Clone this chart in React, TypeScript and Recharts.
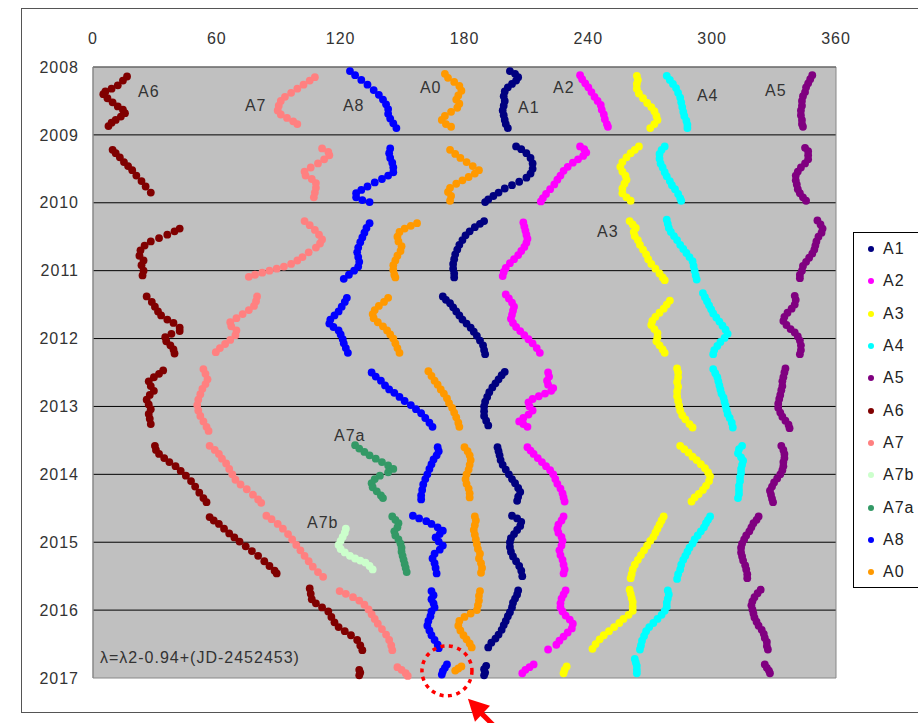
import React from "react";
import { ScatterChart, Scatter, XAxis, YAxis, CartesianGrid, Legend, ReferenceDot, ReferenceArea } from "recharts";

type Pt = [number, number];

const FONT = '"Liberation Sans", Arial, sans-serif';

const lonTicks = [0, 60, 120, 180, 240, 300, 360];
const yearTicks = [2008, 2009, 2010, 2011, 2012, 2013, 2014, 2015, 2016, 2017];
const gridYears = [2009, 2010, 2011, 2012, 2013, 2014, 2015, 2016];

// [longitude, year], one apparition after another
const a1: Pt[] = [
  [202, 2008.06], [204.5, 2008.1], [206, 2008.15], [205, 2008.2], [203, 2008.25], [201, 2008.3], [199.5, 2008.36], [199, 2008.43], [199.5, 2008.5], [199, 2008.57], [198.5, 2008.64], [199, 2008.71], [199.5, 2008.78], [200, 2008.84], [201, 2008.9],
  [205, 2009.17], [207.5, 2009.21], [210, 2009.27], [212, 2009.34], [213, 2009.42], [213, 2009.5], [212, 2009.57], [210, 2009.63], [206.5, 2009.69], [203, 2009.74], [199.5, 2009.79], [196.5, 2009.85], [194, 2009.9], [191.5, 2009.95], [190, 2009.99],
  [189.5, 2010.27], [187.5, 2010.31], [185, 2010.36], [182.5, 2010.42], [180.5, 2010.48], [179, 2010.55], [177.5, 2010.62], [176.5, 2010.69], [175.5, 2010.76], [175, 2010.83], [174.5, 2010.9], [174.5, 2010.97], [175, 2011.04], [175, 2011.1],
  [169.5, 2011.38], [171, 2011.43], [173, 2011.48], [174.5, 2011.54], [176, 2011.6], [177.5, 2011.66], [179, 2011.72], [181, 2011.78], [183, 2011.84], [184.5, 2011.9], [186, 2011.96], [187.5, 2012.03], [189, 2012.1], [189.5, 2012.17], [190, 2012.23],
  [199.5, 2012.49], [198, 2012.54], [196.5, 2012.6], [195, 2012.66], [193.5, 2012.72], [192, 2012.79], [191, 2012.86], [190, 2012.93], [189.5, 2013.0], [189.5, 2013.07], [189.5, 2013.14], [190.5, 2013.21], [191.5, 2013.28],
  [196, 2013.6], [196.5, 2013.66], [197, 2013.72], [197.5, 2013.79], [198.5, 2013.86], [200, 2013.93], [201.5, 2014.0], [203, 2014.07], [204.5, 2014.13], [206, 2014.2], [207, 2014.26], [206, 2014.33], [205.5, 2014.39],
  [203, 2014.61], [205.5, 2014.65], [207.5, 2014.7], [207, 2014.76], [205.5, 2014.82], [204, 2014.88], [202.5, 2014.94], [202, 2015.0], [202, 2015.07], [202.5, 2015.14], [203.5, 2015.21], [205, 2015.28], [206.5, 2015.35], [207.5, 2015.42], [208, 2015.5],
  [206, 2015.71], [205.5, 2015.77], [204.5, 2015.83], [203.5, 2015.89], [203, 2015.96], [202, 2016.03], [201, 2016.09], [200, 2016.16], [199, 2016.22], [198, 2016.29], [196.5, 2016.36], [195, 2016.42], [193, 2016.48], [191.5, 2016.55],
  [190.5, 2016.82], [189.5, 2016.87], [190, 2016.92], [189.5, 2016.96],
];

const a2: Pt[] = [
  [236, 2008.12], [237, 2008.18], [238.5, 2008.24], [240, 2008.3], [241.5, 2008.37], [243, 2008.44], [244.5, 2008.5], [246, 2008.56], [246.5, 2008.63], [247.5, 2008.7], [248, 2008.77], [249, 2008.84], [249.5, 2008.88],
  [236, 2009.17], [238, 2009.21], [239, 2009.26], [237.5, 2009.31], [235, 2009.36], [232.5, 2009.41], [230, 2009.47], [228, 2009.53], [226.5, 2009.6], [225, 2009.66], [223.5, 2009.73], [221.5, 2009.8], [219.5, 2009.87], [218, 2009.93], [217, 2009.98],
  [208.5, 2010.29], [209, 2010.35], [209.5, 2010.41], [210, 2010.47], [210.5, 2010.53], [210, 2010.59], [209, 2010.65], [207.5, 2010.71], [206, 2010.77], [204, 2010.83], [202, 2010.89], [200, 2010.96], [199, 2011.02], [198.5, 2011.08],
  [200, 2011.35], [201.5, 2011.41], [203, 2011.47], [204, 2011.53], [203.5, 2011.59], [203, 2011.65], [202.5, 2011.71], [203.5, 2011.77], [205, 2011.83], [207, 2011.89], [209, 2011.95], [211, 2012.01], [213, 2012.07], [215, 2012.14], [216.5, 2012.21],
  [220.5, 2012.5], [221, 2012.56], [220, 2012.62], [220.5, 2012.68], [223, 2012.73], [222, 2012.77], [219, 2012.81], [216, 2012.85], [213, 2012.89], [211, 2012.94], [211.5, 2013.0], [213, 2013.06], [211, 2013.12], [208.5, 2013.17], [206.5, 2013.22], [208.5, 2013.26], [210.5, 2013.3],
  [210.5, 2013.6], [212, 2013.65], [213.5, 2013.7], [215.5, 2013.76], [217.5, 2013.82], [219.5, 2013.88], [221.5, 2013.94], [223, 2014.0], [224, 2014.07], [225, 2014.14], [226.5, 2014.21], [227.5, 2014.28], [228, 2014.34], [228.5, 2014.4],
  [228, 2014.62], [227, 2014.68], [225.5, 2014.74], [225, 2014.8], [225.5, 2014.86], [227, 2014.92], [227.5, 2014.98], [227, 2015.05], [226, 2015.12], [226.5, 2015.19], [227.5, 2015.26], [228, 2015.33], [228.5, 2015.4], [228, 2015.46],
  [229, 2015.71], [228, 2015.77], [227, 2015.83], [226.5, 2015.9], [226.5, 2015.96], [227.5, 2016.02], [229, 2016.08], [231, 2016.14], [232.5, 2016.2], [232, 2016.27], [230, 2016.33], [228, 2016.39], [226, 2016.45], [224.5, 2016.51], [220.5, 2016.58],
  [213.5, 2016.8], [211.5, 2016.84], [209.5, 2016.88], [208, 2016.93],
];

const a3: Pt[] = [
  [263.5, 2008.13], [264, 2008.19], [263.5, 2008.25], [263.5, 2008.32], [264.5, 2008.39], [266.5, 2008.46], [268.5, 2008.53], [270.5, 2008.59], [272, 2008.65], [273, 2008.72], [273.5, 2008.78], [272, 2008.84], [270, 2008.9],
  [264.5, 2009.17], [262.5, 2009.22], [260.5, 2009.27], [258.5, 2009.33], [256.5, 2009.4], [255.5, 2009.47], [256.5, 2009.54], [258, 2009.6], [258.5, 2009.66], [257.5, 2009.72], [256.5, 2009.79], [256.5, 2009.86], [258.5, 2009.92], [260.5, 2009.97],
  [260, 2010.27], [261.5, 2010.32], [263, 2010.37], [262, 2010.43], [262.5, 2010.49], [264, 2010.55], [265, 2010.62], [266.5, 2010.69], [268, 2010.76], [269, 2010.83], [270.5, 2010.9], [272.5, 2010.97], [274.5, 2011.04], [276, 2011.1], [277, 2011.14],
  [279.5, 2011.44], [278, 2011.5], [276.5, 2011.56], [274.5, 2011.62], [272.5, 2011.68], [271, 2011.74], [270.5, 2011.8], [272, 2011.86], [273.5, 2011.92], [273.5, 2011.98], [273, 2012.04], [274.5, 2012.1], [276, 2012.16], [277, 2012.21],
  [283, 2012.44], [283.5, 2012.5], [283.5, 2012.57], [283, 2012.64], [283.5, 2012.71], [283, 2012.78], [283, 2012.85], [283.5, 2012.92], [284, 2012.99], [284.5, 2013.06], [285.5, 2013.13], [287, 2013.19], [289, 2013.26], [290.5, 2013.31],
  [284.5, 2013.58], [286.5, 2013.63], [288.5, 2013.68], [290.5, 2013.74], [292.5, 2013.79], [294.5, 2013.85], [296.5, 2013.91], [298, 2013.97], [299, 2014.03], [298.5, 2014.1], [297, 2014.17], [295.5, 2014.23], [293.5, 2014.29], [291.5, 2014.34], [290, 2014.4],
  [276.5, 2014.62], [275.5, 2014.68], [274.5, 2014.74], [273.5, 2014.8], [272.5, 2014.86], [271.5, 2014.92], [270, 2014.98], [268.5, 2015.05], [267, 2015.12], [265.5, 2015.19], [264, 2015.26], [262.5, 2015.33], [261.5, 2015.4], [261, 2015.47], [260.5, 2015.53],
  [260, 2015.7], [260.5, 2015.76], [261, 2015.82], [261.5, 2015.88], [261.5, 2015.95], [261.5, 2016.01], [259.5, 2016.07], [257, 2016.13], [255, 2016.19], [252.5, 2016.25], [250, 2016.31], [247.5, 2016.37], [245.5, 2016.43], [243.5, 2016.5], [242, 2016.57],
  [229.5, 2016.83], [228.5, 2016.88], [228, 2016.93],
];

const a4: Pt[] = [
  [278, 2008.13], [279.5, 2008.19], [281, 2008.25], [282.5, 2008.31], [283.5, 2008.38], [284.5, 2008.45], [285, 2008.52], [285.5, 2008.59], [286, 2008.66], [286.5, 2008.72], [287.5, 2008.79], [288, 2008.85], [288, 2008.9],
  [277, 2009.17], [275.5, 2009.22], [274.5, 2009.28], [274.5, 2009.35], [275, 2009.42], [276, 2009.48], [277, 2009.55], [278, 2009.61], [279.5, 2009.68], [280.5, 2009.74], [282, 2009.8], [283.5, 2009.87], [284.5, 2009.93], [285, 2009.97],
  [278, 2010.25], [278.5, 2010.31], [279, 2010.37], [280, 2010.43], [281.5, 2010.49], [283, 2010.55], [284.5, 2010.62], [286, 2010.68], [287.5, 2010.74], [289, 2010.8], [290.5, 2010.86], [291, 2010.93], [291.5, 2011.0], [292, 2011.07], [292.5, 2011.13],
  [295.5, 2011.33], [296.5, 2011.39], [297.5, 2011.45], [298.5, 2011.51], [299.5, 2011.57], [300.5, 2011.63], [302, 2011.69], [303.5, 2011.75], [305, 2011.81], [306.5, 2011.87], [307.5, 2011.93], [306, 2011.99], [304, 2012.05], [302.5, 2012.11], [301, 2012.17], [300.5, 2012.23],
  [300.5, 2012.45], [301.5, 2012.51], [302.5, 2012.57], [303, 2012.63], [303.5, 2012.69], [304, 2012.75], [304.5, 2012.81], [305.5, 2012.87], [306, 2012.93], [306.5, 2012.99], [307, 2013.05], [307.5, 2013.11], [308.5, 2013.17], [309.5, 2013.24], [310, 2013.31],
  [314.5, 2013.58], [313, 2013.63], [312.5, 2013.69], [314, 2013.75], [315, 2013.8], [314.5, 2013.86], [314, 2013.92], [314, 2013.98], [313.5, 2014.04], [313.5, 2014.1], [313, 2014.17], [313, 2014.23], [313, 2014.29], [312.5, 2014.35],
  [299, 2014.62], [298, 2014.67], [297, 2014.72], [296, 2014.78], [294.5, 2014.84], [293, 2014.9], [291.5, 2014.96], [290.5, 2015.02], [289, 2015.08], [288, 2015.14], [287, 2015.2], [286, 2015.26], [285, 2015.33], [284.5, 2015.4], [283.5, 2015.47], [283, 2015.54],
  [278.5, 2015.71], [279, 2015.77], [278.5, 2015.83], [278, 2015.89], [278, 2015.95], [277, 2016.01], [275.5, 2016.07], [273.5, 2016.13], [271.5, 2016.19], [269.5, 2016.25], [268, 2016.31], [267, 2016.38], [266, 2016.45], [265.5, 2016.52], [265, 2016.58],
  [262.5, 2016.72], [263, 2016.77], [263.5, 2016.82], [263.5, 2016.88], [263.5, 2016.93],
];

const a5: Pt[] = [
  [348.5, 2008.12], [347.5, 2008.18], [346.5, 2008.24], [345.5, 2008.3], [345, 2008.37], [344, 2008.43], [343.5, 2008.5], [343.5, 2008.57], [343, 2008.64], [343, 2008.71], [343.5, 2008.78], [343.5, 2008.84], [344, 2008.88],
  [345, 2009.19], [346.5, 2009.24], [346.5, 2009.3], [346.5, 2009.36], [345, 2009.42], [343, 2009.48], [341.5, 2009.54], [340.5, 2009.6], [340.5, 2009.67], [341, 2009.73], [341.5, 2009.8], [342.5, 2009.86], [344, 2009.92], [345.5, 2009.97],
  [351, 2010.26], [352.5, 2010.32], [353.5, 2010.38], [353, 2010.44], [351.5, 2010.5], [350.5, 2010.57], [350, 2010.63], [349.5, 2010.69], [348.5, 2010.75], [347, 2010.81], [345.5, 2010.87], [344, 2010.93], [343.5, 2011.0], [342.5, 2011.06], [342.5, 2011.11],
  [340, 2011.37], [340.5, 2011.43], [340, 2011.5], [338.5, 2011.56], [336.5, 2011.62], [335, 2011.68], [334.5, 2011.74], [336, 2011.8], [338, 2011.86], [340, 2011.91], [341.5, 2011.97], [342.5, 2012.03], [343, 2012.1], [343, 2012.17], [342.5, 2012.23],
  [335.5, 2012.44], [335, 2012.5], [334.5, 2012.57], [334, 2012.63], [334, 2012.7], [333.5, 2012.76], [333, 2012.83], [332.5, 2012.89], [332, 2012.96], [332, 2013.02], [333, 2013.09], [334, 2013.15], [335.5, 2013.21], [337, 2013.27], [337.5, 2013.32],
  [333.5, 2013.58], [334.5, 2013.64], [335, 2013.7], [335, 2013.76], [334.5, 2013.82], [334.5, 2013.88], [334, 2013.94], [333, 2014.0], [331.5, 2014.06], [330, 2014.12], [329, 2014.18], [328, 2014.24], [328.5, 2014.3], [329, 2014.36], [329.5, 2014.41],
  [322.5, 2014.62], [321.5, 2014.67], [320, 2014.72], [319, 2014.78], [318, 2014.84], [316.5, 2014.9], [315.5, 2014.96], [314.5, 2015.02], [314, 2015.08], [314, 2015.15], [314.5, 2015.21], [315, 2015.27], [316, 2015.34], [316.5, 2015.4], [317, 2015.47], [317, 2015.53],
  [323.5, 2015.7], [322, 2015.75], [320.5, 2015.81], [319.5, 2015.87], [319, 2015.93], [319.5, 2015.99], [320, 2016.05], [320.5, 2016.11], [321.5, 2016.17], [322.5, 2016.23], [324, 2016.29], [325, 2016.35], [325.5, 2016.41], [326.5, 2016.47], [326.5, 2016.53], [327, 2016.58],
  [325.5, 2016.8], [326.5, 2016.85], [327.5, 2016.89], [328, 2016.93],
];

const a6: Pt[] = [
  [16.5, 2008.14], [14.5, 2008.2], [12, 2008.27], [9, 2008.32], [6, 2008.36], [5, 2008.4], [7, 2008.46], [9.5, 2008.52], [12, 2008.58], [14.5, 2008.63], [15.5, 2008.68], [13.5, 2008.73], [11, 2008.78], [9, 2008.82], [7.5, 2008.87],
  [9.5, 2009.22], [11, 2009.27], [13, 2009.33], [15, 2009.4], [17, 2009.46], [19, 2009.52], [21, 2009.6], [23.5, 2009.68], [25.5, 2009.76], [28, 2009.85],
  [42, 2010.38], [39.5, 2010.42], [36, 2010.47], [32, 2010.52], [28, 2010.57], [25, 2010.63], [23, 2010.7], [22.5, 2010.78], [24.5, 2010.85], [23.5, 2010.92], [24.5, 2011.0], [24, 2011.07],
  [26, 2011.38], [28.5, 2011.46], [30, 2011.53], [31.5, 2011.6], [33, 2011.66], [36, 2011.72], [39, 2011.77], [42, 2011.84], [42, 2011.89], [38, 2011.93], [35, 2011.98], [35.5, 2012.04], [37.5, 2012.1], [39, 2012.16], [39.5, 2012.22],
  [34, 2012.47], [32, 2012.52], [29.5, 2012.57], [27, 2012.63], [28, 2012.7], [29.5, 2012.77], [27.5, 2012.83], [26, 2012.9], [27, 2012.97], [28, 2013.04], [27, 2013.11], [27.5, 2013.18], [28, 2013.26],
  [30, 2013.58], [30.5, 2013.64], [32, 2013.7], [34.5, 2013.76], [37, 2013.82], [40, 2013.88], [42.5, 2013.95], [45, 2014.02], [47.5, 2014.1], [49.5, 2014.18], [51.5, 2014.27], [53.5, 2014.35], [55, 2014.41],
  [56.5, 2014.63], [58.5, 2014.68], [61, 2014.73], [63.5, 2014.8], [66, 2014.87], [68.5, 2014.93], [71, 2014.99], [74, 2015.06], [77, 2015.13], [80, 2015.2], [83, 2015.28], [85.5, 2015.35], [88, 2015.42], [89, 2015.46],
  [105, 2015.68], [105.5, 2015.76], [106, 2015.84], [108, 2015.9], [111, 2015.96], [114, 2016.02], [115.5, 2016.1], [117, 2016.18], [119, 2016.25], [122, 2016.31], [125, 2016.37], [128, 2016.44], [129.5, 2016.52], [130.5, 2016.59],
  [129, 2016.88], [129.5, 2016.92], [129, 2016.96],
];

const a7: Pt[] = [
  [107.5, 2008.15], [105, 2008.2], [102, 2008.26], [99, 2008.32], [96, 2008.38], [93, 2008.44], [91, 2008.5], [90, 2008.57], [89.5, 2008.64], [91, 2008.7], [94, 2008.75], [97, 2008.8], [99, 2008.84],
  [111, 2009.2], [114, 2009.25], [114.5, 2009.3], [112, 2009.36], [109, 2009.42], [105.5, 2009.48], [102.5, 2009.54], [103, 2009.6], [106, 2009.65], [108, 2009.71], [108, 2009.78], [107.5, 2009.85], [107, 2009.92],
  [102.5, 2010.27], [105, 2010.33], [107.5, 2010.4], [109.5, 2010.47], [111, 2010.54], [110, 2010.6], [108, 2010.66], [104.5, 2010.73], [101.5, 2010.8], [99, 2010.85], [96, 2010.9], [92.5, 2010.94], [89, 2010.97], [85.5, 2011.0], [82, 2011.03], [78.5, 2011.06], [75.5, 2011.09],
  [79.5, 2011.38], [79, 2011.45], [78, 2011.52], [75.5, 2011.58], [72.5, 2011.64], [69.5, 2011.7], [66.5, 2011.76], [67, 2011.82], [69.5, 2011.88], [69, 2011.95], [66.5, 2012.02], [64, 2012.08], [61.5, 2012.14], [59.5, 2012.2],
  [53.5, 2012.45], [54.5, 2012.52], [55.5, 2012.6], [54.5, 2012.67], [53, 2012.74], [52, 2012.82], [51, 2012.9], [50.5, 2012.98], [51, 2013.06], [52, 2013.14], [53.5, 2013.22], [55, 2013.3], [56, 2013.36],
  [56.5, 2013.58], [59, 2013.64], [61, 2013.7], [62.5, 2013.77], [64.5, 2013.84], [66, 2013.92], [67.5, 2014.0], [69, 2014.08], [71.5, 2014.15], [74.5, 2014.22], [77.5, 2014.3], [80, 2014.37], [81.5, 2014.42],
  [84, 2014.61], [86.5, 2014.66], [89.5, 2014.73], [92, 2014.8], [94.5, 2014.88], [96.5, 2014.96], [98.5, 2015.04], [100.5, 2015.12], [102.5, 2015.2], [104.5, 2015.28], [106.5, 2015.36], [109, 2015.44], [111.5, 2015.51],
  [119.5, 2015.72], [122.5, 2015.76], [126, 2015.81], [129, 2015.86], [131.5, 2015.92], [133.5, 2015.99], [135, 2016.06], [136.5, 2016.13], [138, 2016.2], [140, 2016.28], [142, 2016.36], [143.5, 2016.44], [144.5, 2016.52], [145, 2016.59],
  [147.5, 2016.84], [149.5, 2016.88], [151.5, 2016.93], [152.5, 2016.97],
];

const a7b: Pt[] = [
  [122.5, 2014.8], [122, 2014.86], [121, 2014.92], [120, 2014.98], [119, 2015.04], [120, 2015.1], [122, 2015.15], [124.5, 2015.2], [127, 2015.24], [129.5, 2015.27], [132, 2015.3], [134, 2015.35], [135.5, 2015.4],
];

const a7a: Pt[] = [
  [127, 2013.57], [129, 2013.62], [131.5, 2013.67], [134, 2013.72], [137, 2013.77], [140, 2013.82], [143, 2013.87], [145.5, 2013.92], [143, 2013.97], [139, 2014.02], [136.5, 2014.07], [135, 2014.13], [135.5, 2014.19], [137.5, 2014.25], [139.5, 2014.31], [140.5, 2014.35],
  [145, 2014.62], [146.5, 2014.67], [148, 2014.72], [147.5, 2014.78], [146, 2014.84], [146.5, 2014.9], [148, 2014.96], [149, 2015.02], [149.5, 2015.08], [149.5, 2015.14], [150, 2015.2], [150.5, 2015.26], [151, 2015.32], [151.5, 2015.38], [152, 2015.44],
];

const a8: Pt[] = [
  [124.5, 2008.06], [127, 2008.12], [130, 2008.19], [133, 2008.26], [136, 2008.34], [138.5, 2008.41], [140.5, 2008.48], [142, 2008.55], [143, 2008.62], [143, 2008.69], [144, 2008.76], [145.5, 2008.83], [147, 2008.9],
  [144, 2009.2], [143.5, 2009.27], [144, 2009.34], [145, 2009.41], [145.5, 2009.48], [145.5, 2009.55], [143, 2009.6], [140, 2009.65], [136.5, 2009.7], [133, 2009.76], [130, 2009.81], [127.5, 2009.86], [127.5, 2009.92], [130.5, 2009.96], [134, 2009.99],
  [134, 2010.3], [132.5, 2010.37], [131.5, 2010.44], [130.5, 2010.51], [129.5, 2010.58], [128.5, 2010.66], [128, 2010.73], [128.5, 2010.8], [129, 2010.87], [128.5, 2010.94], [126.5, 2011.0], [124, 2011.06], [121.5, 2011.12],
  [123, 2011.4], [122, 2011.46], [120.5, 2011.53], [119, 2011.6], [117, 2011.66], [115, 2011.72], [114.5, 2011.78], [116.5, 2011.83], [119, 2011.88], [120, 2011.94], [121, 2012.01], [121.5, 2012.07], [122.5, 2012.14], [123.5, 2012.21],
  [135, 2012.5], [137, 2012.56], [139.5, 2012.62], [141.5, 2012.69], [143.5, 2012.75], [146, 2012.8], [148.5, 2012.86], [151, 2012.92], [154, 2012.98], [156.5, 2013.04], [159, 2013.1], [161, 2013.17], [163, 2013.24], [164.5, 2013.3],
  [167, 2013.6], [167.5, 2013.66], [166.5, 2013.72], [165, 2013.78], [164, 2013.85], [163, 2013.92], [162, 2014.0], [161, 2014.07], [160, 2014.15], [159.5, 2014.23], [159, 2014.31], [159, 2014.37],
  [155, 2014.61], [158, 2014.65], [161.5, 2014.69], [164, 2014.73], [167, 2014.78], [169.5, 2014.83], [168, 2014.88], [166, 2014.93], [167.5, 2014.99], [169.5, 2015.05], [168, 2015.11], [165.5, 2015.17], [164.5, 2015.24], [165.5, 2015.31], [166, 2015.38], [166.5, 2015.46],
  [164, 2015.72], [165, 2015.78], [164, 2015.84], [165, 2015.9], [165.5, 2015.96], [164, 2016.02], [163.5, 2016.09], [162.5, 2016.16], [162, 2016.23], [163, 2016.3], [164, 2016.37], [165.5, 2016.44], [167, 2016.51], [167.5, 2016.56],
  [171.5, 2016.8], [170.5, 2016.85], [169.5, 2016.9], [169, 2016.95],
];

const a0: Pt[] = [
  [170.5, 2008.1], [172, 2008.16], [175, 2008.22], [177.5, 2008.28], [178.5, 2008.35], [177, 2008.42], [176, 2008.48], [177.5, 2008.54], [176.5, 2008.6], [173.5, 2008.66], [170.5, 2008.72], [169, 2008.78], [171, 2008.84], [173.5, 2008.88],
  [173, 2009.22], [175.5, 2009.28], [178, 2009.34], [181, 2009.4], [184, 2009.46], [187, 2009.52], [185, 2009.57], [182, 2009.62], [179, 2009.67], [176, 2009.72], [173, 2009.78], [172, 2009.84], [173.5, 2009.9], [173, 2009.97],
  [157, 2010.3], [154, 2010.34], [151, 2010.38], [148.5, 2010.43], [147.5, 2010.5], [148, 2010.57], [149.5, 2010.64], [149, 2010.71], [147.5, 2010.78], [146.5, 2010.85], [145.5, 2010.92], [145.5, 2010.99], [146, 2011.06], [146.5, 2011.1],
  [143, 2011.4], [141, 2011.46], [138.5, 2011.52], [136.5, 2011.58], [135.5, 2011.64], [136, 2011.7], [138, 2011.76], [140.5, 2011.82], [142.5, 2011.88], [144, 2011.94], [145.5, 2012.0], [146.5, 2012.07], [147.5, 2012.14], [148.5, 2012.21],
  [162.5, 2012.48], [164, 2012.55], [165.5, 2012.62], [167, 2012.68], [168.5, 2012.75], [170, 2012.81], [171.5, 2012.88], [172.5, 2012.95], [174, 2013.02], [175, 2013.09], [176, 2013.16], [177, 2013.24], [177.5, 2013.3],
  [180, 2013.6], [181.5, 2013.66], [182.5, 2013.72], [183, 2013.79], [182.5, 2013.86], [182, 2013.93], [181, 2014.0], [180.5, 2014.07], [181, 2014.14], [182, 2014.21], [182.5, 2014.28], [182.5, 2014.34],
  [185, 2014.62], [185.5, 2014.68], [185, 2014.75], [184.5, 2014.82], [185, 2014.89], [185.5, 2014.96], [186, 2015.03], [186.5, 2015.1], [187.5, 2015.17], [187, 2015.24], [188, 2015.31], [188.5, 2015.38], [188, 2015.45],
  [187.5, 2015.72], [187, 2015.79], [187, 2015.86], [186.5, 2015.93], [186, 2016.0], [183, 2016.05], [180, 2016.1], [177.5, 2016.16], [177, 2016.23], [178, 2016.3], [179.5, 2016.37], [181, 2016.43], [182.5, 2016.49], [183.5, 2016.55],
  [178.5, 2016.83], [177, 2016.86], [175.5, 2016.89],
];

const series = [
  { name: "A1", color: "#000080", data: a1 },
  { name: "A2", color: "#ff00ff", data: a2 },
  { name: "A3", color: "#ffff00", data: a3 },
  { name: "A4", color: "#00ffff", data: a4 },
  { name: "A5", color: "#800080", data: a5 },
  { name: "A6", color: "#800000", data: a6 },
  { name: "A7", color: "#ff8080", data: a7 },
  { name: "A7b", color: "#ccffcc", data: a7b },
  { name: "A7a", color: "#339966", data: a7a },
  { name: "A8", color: "#0000ff", data: a8 },
  { name: "A0", color: "#ff9900", data: a0 },
];

// in-plot names: [text, lon, year of baseline]
const labels: [string, number, number][] = [
  ["A6", 21.8, 2008.44],
  ["A7", 73.6, 2008.65],
  ["A8", 121.1, 2008.65],
  ["A0", 158.4, 2008.38],
  ["A1", 205.9, 2008.68],
  ["A2", 222.9, 2008.38],
  ["A4", 292.6, 2008.5],
  ["A5", 325.6, 2008.43],
  ["A3", 244.2, 2010.5],
  ["A7a", 116.8, 2013.51],
  ["A7b", 103.7, 2014.79],
];

const formula = "λ=λ2-0.94+(JD-2452453)";

const textStyle = { fontFamily: FONT, fontSize: 16, letterSpacing: 1, fill: "#333" };

const dot = (color: string) => (p: any) => <circle cx={p.cx} cy={p.cy} r={3.9} fill={color} />;

const textShape = (t: string) => (p: any) => (
  <text x={p.cx} y={p.cy} {...textStyle} textAnchor="start">{t}</text>
);

// dotted red ring and arrow pointing at it
const Highlight = (p: any) => {
  const { cx, cy } = p;
  return (
    <g>
      <circle cx={cx} cy={cy} r={25} fill="none" stroke="#ff0000" strokeWidth={3.5} strokeDasharray="4 4.5" />
      <line x1={cx + 34} y1={cy + 42} x2={cx + 60} y2={cy + 68} stroke="#ff0000" strokeWidth={5} />
      <polygon points={`${cx + 21},${cy + 28} ${cx + 43},${cy + 35} ${cx + 28},${cy + 51}`} fill="#ff0000" />
    </g>
  );
};

const LegendBox = () => (
  <div style={{ width: 90, height: 356, border: "1px solid #000", background: "#fff", boxSizing: "border-box" }}>
    {series.map((s) => (
      <div key={s.name} style={{ height: 32.3, display: "flex", alignItems: "center", fontFamily: FONT, fontSize: 16, letterSpacing: 1, color: "#222" }}>
        <span style={{ width: 6, height: 6, borderRadius: 3, background: s.color, marginLeft: 14, marginRight: 9 }} />
        {s.name}
      </div>
    ))}
  </div>
);

export default function App() {
  return (
    <div style={{ position: "absolute", left: 0, top: 0, width: 918, height: 723, overflow: "hidden", background: "#fff" }}>
      <div style={{ position: "absolute", left: 21, top: 8, width: 920, height: 703, border: "1px solid #555" }} />
      <div style={{ position: "absolute", left: 0, top: 0 }}>
        <ScatterChart width={918} height={723} margin={{ top: 37, right: 82, bottom: 45, left: 33 }}>
          <CartesianGrid vertical={false} horizontalValues={gridYears} stroke="#000" fill="#c0c0c0" strokeOpacity={1} />
          <XAxis
            type="number"
            dataKey="x"
            orientation="top"
            domain={[0, 360]}
            ticks={lonTicks}
            height={30}
            tickSize={0}
            tickMargin={23}
            tickLine={false}
            axisLine={{ stroke: "#555" }}
            tick={textStyle}
          />
          <YAxis
            type="number"
            dataKey="y"
            domain={[2008, 2017]}
            reversed
            ticks={yearTicks}
            width={60}
            tickSize={0}
            tickMargin={14}
            tickLine={false}
            axisLine={{ stroke: "#888" }}
            tick={textStyle}
          />
          <ReferenceArea x1={0} x2={360} y1={2008} y2={2017} fill="none" stroke="#888" strokeWidth={1} />
          {series.map((s) => (
            <Scatter
              key={s.name}
              name={s.name}
              data={s.data.map(([x, y]) => ({ x, y }))}
              fill={s.color}
              shape={dot(s.color)}
              isAnimationActive={false}
            />
          ))}
          {labels.map(([t, x, y]) => (
            <ReferenceDot key={t} x={x} y={y} r={0} ifOverflow="visible" shape={textShape(t)} />
          ))}
          <ReferenceDot x={3.4} y={2016.78} r={0} ifOverflow="visible" shape={textShape(formula)} />
          <ReferenceDot x={171.5} y={2016.895} r={0} ifOverflow="visible" shape={Highlight} />
          <Legend
            layout="vertical"
            align="center"
            verticalAlign="middle"
            content={LegendBox}
            wrapperStyle={{ left: 853, top: 232, width: 90 }}
          />
        </ScatterChart>
      </div>
    </div>
  );
}
